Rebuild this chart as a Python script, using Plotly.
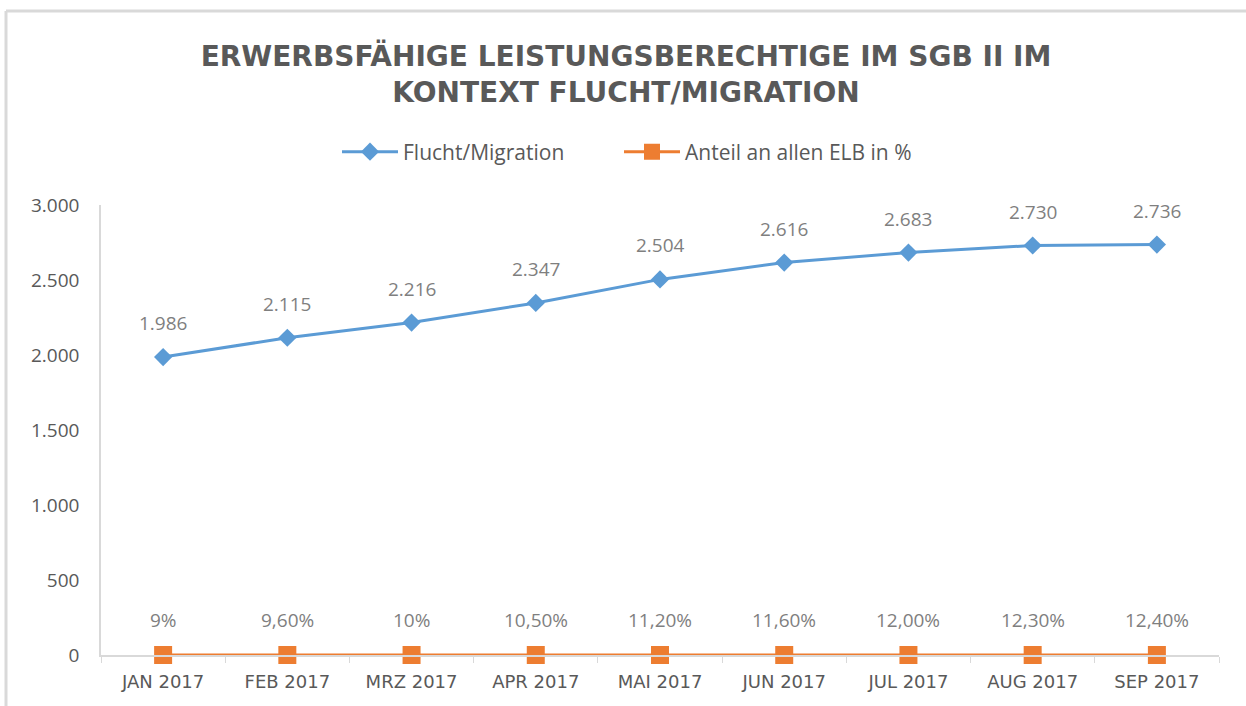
import plotly.graph_objects as go

categories = ["JAN 2017", "FEB 2017", "MRZ 2017", "APR 2017", "MAI 2017",
              "JUN 2017", "JUL 2017", "AUG 2017", "SEP 2017"]
flucht = [1986, 2115, 2216, 2347, 2504, 2616, 2683, 2730, 2736]
flucht_labels = ["1.986", "2.115", "2.216", "2.347", "2.504", "2.616", "2.683", "2.730", "2.736"]
anteil = [0.09, 0.096, 0.10, 0.105, 0.112, 0.116, 0.12, 0.123, 0.124]
anteil_labels = ["9%", "9,60%", "10%", "10,50%", "11,20%", "11,60%", "12,00%", "12,30%", "12,40%"]
y_ticks = [0, 500, 1000, 1500, 2000, 2500, 3000]
y_tick_labels = ["0", "500", "1.000", "1.500", "2.000", "2.500", "3.000"]

FONT = "Open Sans"
GRAY = "#595959"
LBL = "#7f7f7f"

W, H = 1246, 706
L, R, T, B = 101, 27, 205, 51

fig = go.Figure()
fig.add_trace(go.Scatter(
    x=categories, y=flucht, name="Flucht/Migration", mode="lines+markers",
    line=dict(color="#5B9BD5", width=3),
    marker=dict(symbol="diamond", size=14, color="#5B9BD5"),
    cliponaxis=False, legend="legend",
))
fig.add_trace(go.Scatter(
    x=categories, y=anteil, name="Anteil an allen ELB in %", mode="lines+markers",
    line=dict(color="#ED7D31", width=3),
    marker=dict(symbol="square", size=18, color="#ED7D31"),
    cliponaxis=False, legend="legend2",
))

annotations = []
for c, v, t in zip(categories, flucht, flucht_labels):
    annotations.append(dict(x=c, y=v, text=t, showarrow=False, yshift=34,
                            font=dict(family=FONT, size=19, color=LBL)))
for c, v, t in zip(categories, anteil, anteil_labels):
    annotations.append(dict(x=c, y=v, text=t, showarrow=False, yshift=35,
                            font=dict(family=FONT, size=19, color=LBL)))

pw, ph = W - L - R, H - T - B
def px(x):
    return (x - L) / pw
def py(y):
    return (H - B - y) / ph

legend_common = dict(orientation="h", yanchor="middle", y=py(152), xanchor="left",
                     font=dict(family=FONT, size=21, color=GRAY), itemwidth=56,
                     bgcolor="rgba(0,0,0,0)")

fig.update_layout(
    width=W, height=H,
    margin=dict(l=L, r=R, t=T, b=B),
    paper_bgcolor="white", plot_bgcolor="white",
    title=dict(
        text="<b>ERWERBSFÄHIGE LEISTUNGSBERECHTIGE IM SGB II IM<br>KONTEXT FLUCHT/MIGRATION</b>",
        x=626 / W, xanchor="center", y=1 - 66 / H, yanchor="middle",
        font=dict(family="DejaVu Sans", size=28, color=GRAY),
    ),
    legend=dict(legend_common, x=px(337)),
    legend2=dict(legend_common, x=px(619)),
    showlegend=True,
    annotations=annotations,
    xaxis=dict(
        type="category", range=[-0.5, 8.5],
        showline=True, linecolor="#d9d9d9", linewidth=1.5,
        ticks="outside", tickson="boundaries", ticklen=6, tickcolor="#d9d9d9",
        showgrid=False, zeroline=False,
        tickfont=dict(family="DejaVu Sans", size=18, color=GRAY),
        ticklabelstandoff=10,
    ),
    yaxis=dict(
        range=[0, 3000], tickvals=y_ticks, ticktext=y_tick_labels,
        showline=True, linecolor="#d9d9d9", linewidth=1.5,
        showgrid=False, zeroline=False, ticks="",
        tickfont=dict(family=FONT, size=19, color=GRAY),
        ticklabelstandoff=16,
    ),
    shapes=[
        dict(type="line", xref="paper", yref="paper", x0=px(6), x1=px(1260), y0=py(11), y1=py(11),
             line=dict(color="#d9d9d9", width=3)),
        dict(type="line", xref="paper", yref="paper", x0=px(6), x1=px(6), y0=py(11), y1=py(720),
             line=dict(color="#d9d9d9", width=3)),
    ],
)

fig.write_html("out.html", config={"displayModeBar": False},
               post_script="document.body.style.margin='0';")
